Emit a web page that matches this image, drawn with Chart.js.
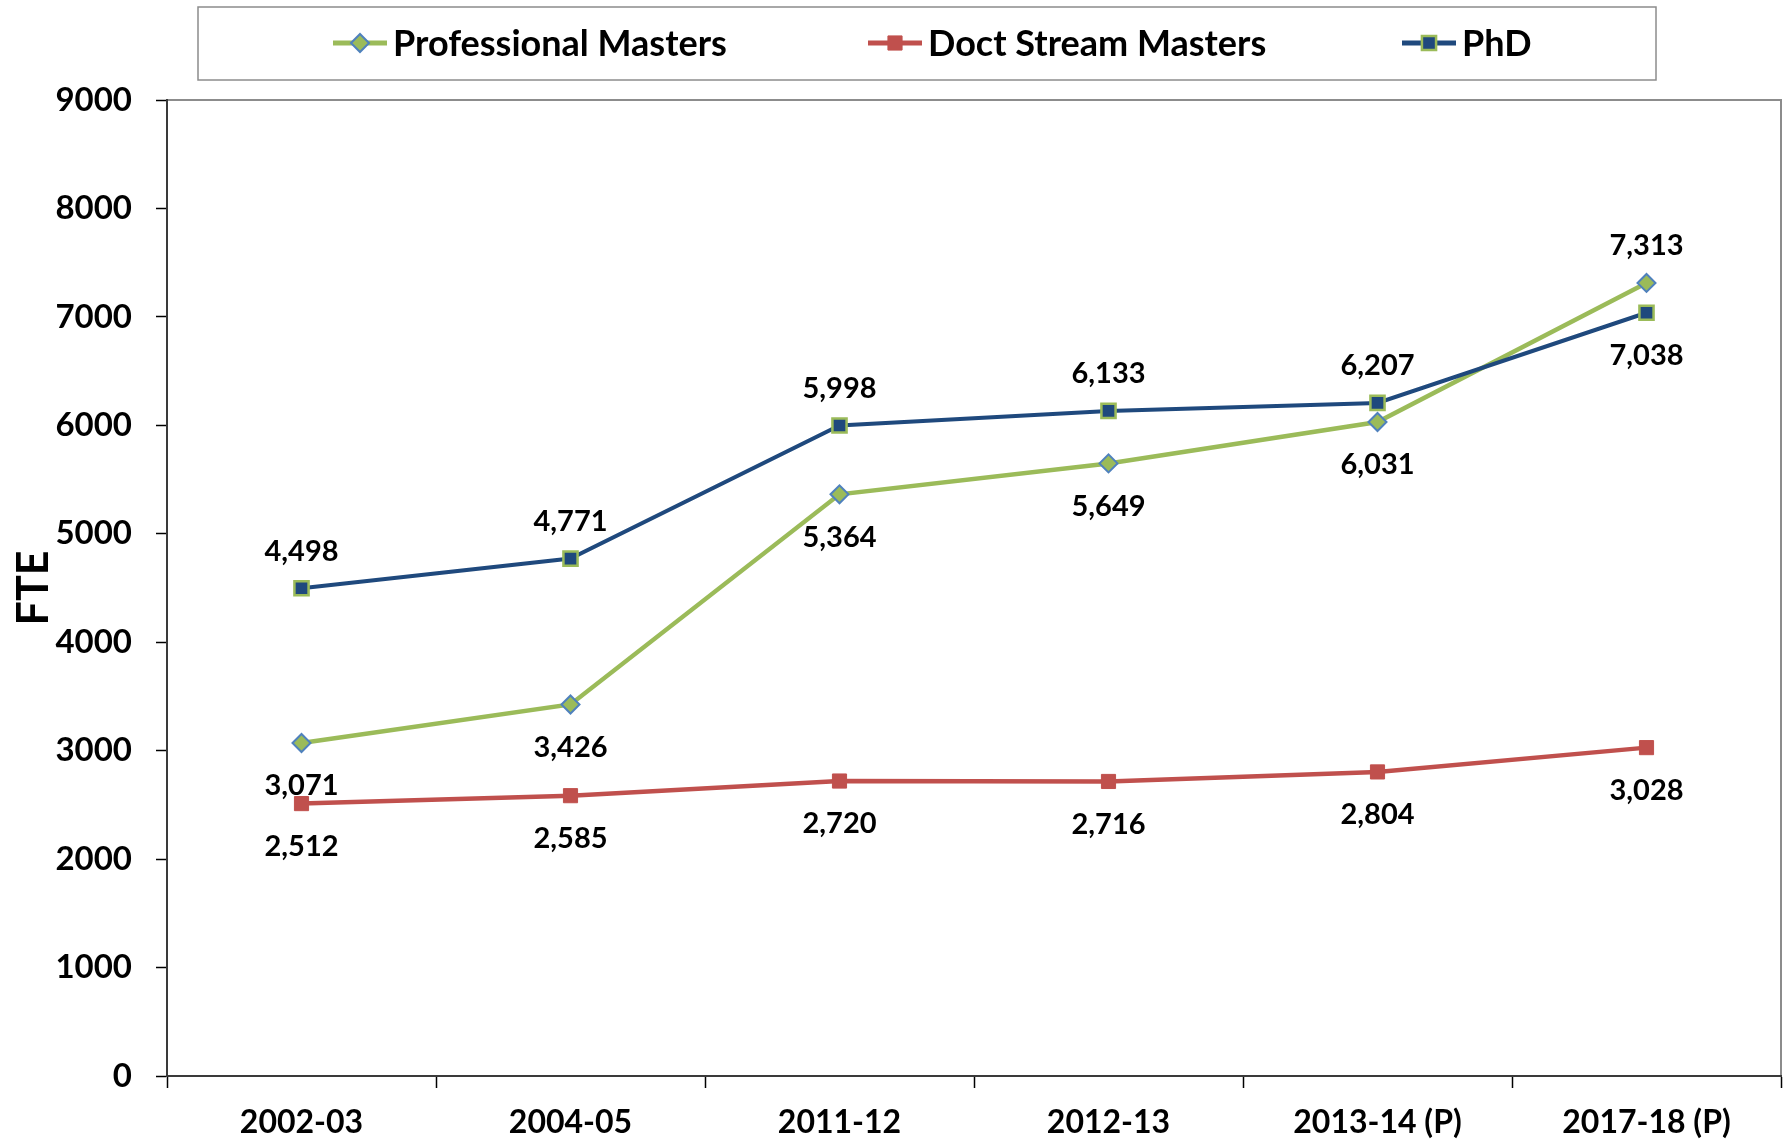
<!DOCTYPE html>
<html>
<head>
<meta charset="utf-8">
<script src="https://cdn.jsdelivr.net/npm/chart.js@4.4.1/dist/chart.umd.min.js"></script>
<style>
    body { margin: 0; background: #fff; }
    #wrap { width: 1783px; height: 1144px; position: relative; }
</style>
</head>
<body>
<div id="wrap"><canvas id="fte"></canvas></div>
<script>
const anos = ['2002-03', '2004-05', '2011-12', '2012-13', '2013-14 (P)', '2017-18 (P)'];
const profMasters = [3071, 3426, 5364, 5649, 6031, 7313];
const doctMasters = [2512, 2585, 2720, 2716, 2804, 3028];
const phd = [4498, 4771, 5998, 6133, 6207, 7038];
const yTicks = [0, 1000, 2000, 3000, 4000, 5000, 6000, 7000, 8000, 9000];

const FONT = 'Lato';

function drawMarker(ctx, style, x, y, r, fill, stroke, bw) {
    ctx.save();
    ctx.beginPath();
    if (style === 'rectRot') {
        ctx.moveTo(x - r, y);
        ctx.lineTo(x, y - r);
        ctx.lineTo(x + r, y);
        ctx.lineTo(x, y + r);
        ctx.closePath();
    } else {
        const s = r * Math.SQRT1_2;
        ctx.rect(x - s, y - s, 2 * s, 2 * s);
    }
    ctx.fillStyle = fill;
    ctx.fill();
    ctx.lineWidth = bw;
    ctx.strokeStyle = stroke;
    ctx.stroke();
    ctx.restore();
}

// moldura cinza da area do grafico
const plotFrame = {
    id: 'plotFrame',
    beforeDraw(chart) {
        const { ctx, chartArea: a } = chart;
        ctx.save();
        ctx.fillStyle = '#fff';
        ctx.fillRect(0, 0, chart.width, chart.height);
        ctx.strokeStyle = '#8c8c8c';
        ctx.lineWidth = 2;
        ctx.strokeRect(a.left, a.top, a.right - a.left, a.bottom - a.top);
        ctx.restore();
    }
};

// rotulos de valor (acima / abaixo do ponto)
const valueLabels = {
    id: 'valueLabels',
    afterDatasetsDraw(chart) {
        const ctx = chart.ctx;
        ctx.save();
        ctx.font = 'bold 29px ' + FONT;
        ctx.fillStyle = '#000';
        ctx.textAlign = 'center';
        ctx.textBaseline = 'middle';
        chart.data.datasets.forEach((ds, i) => {
            const meta = chart.getDatasetMeta(i);
            meta.data.forEach((pt, j) => {
                const pos = ds.labelPos[j];
                const y = pos === 'above' ? pt.y - 37 : pt.y + 43;
                ctx.fillText(ds.data[j].toLocaleString('en-US'), pt.x, y);
            });
        });
        ctx.restore();
    }
};

// legenda no estilo do Excel
const boxLegend = {
    id: 'boxLegend',
    afterDraw(chart) {
        const ctx = chart.ctx;
        const itemX = [333, 868, 1402];
        const ly = 43;
        ctx.save();
        ctx.strokeStyle = '#8c8c8c';
        ctx.lineWidth = 1.5;
        ctx.strokeRect(198, 7, 1458, 73);
        ctx.font = 'bold 36px ' + FONT;
        ctx.textBaseline = 'middle';
        ctx.textAlign = 'left';
        chart.data.datasets.forEach((ds, i) => {
            const x = itemX[i];
            ctx.strokeStyle = ds.borderColor;
            ctx.lineWidth = 5;
            ctx.beginPath();
            ctx.moveTo(x, ly);
            ctx.lineTo(x + 54, ly);
            ctx.stroke();
            drawMarker(ctx, ds.pointStyle, x + 27, ly, ds.pointRadius, ds.pointBackgroundColor, ds.pointBorderColor, ds.pointBorderWidth);
            ctx.fillStyle = '#000';
            ctx.fillText(ds.label, x + 60, ly + 1);
        });
        ctx.restore();
    }
};

const fte = document.getElementById('fte');

new Chart(fte, {
    type: 'line',
    data: {
        labels: anos,
        datasets: [
            {
                label: 'Professional Masters',
                data: profMasters,
                borderColor: '#9bbb59',
                borderWidth: 4.5,
                pointStyle: 'rectRot',
                pointRadius: 9,
                pointBackgroundColor: '#9bbb59',
                pointBorderColor: '#4f81bd',
                pointBorderWidth: 2,
                labelPos: ['below', 'below', 'below', 'below', 'below', 'above'],
                order: 3
            },
            {
                label: 'Doct Stream Masters',
                data: doctMasters,
                borderColor: '#c0504d',
                borderWidth: 4.5,
                pointStyle: 'rect',
                pointRadius: 10,
                pointBackgroundColor: '#c0504d',
                pointBorderColor: '#c0504d',
                pointBorderWidth: 1,
                labelPos: ['below', 'below', 'below', 'below', 'below', 'below'],
                order: 2
            },
            {
                label: 'PhD',
                data: phd,
                borderColor: '#1f497d',
                borderWidth: 4,
                pointStyle: 'rect',
                pointRadius: 10,
                pointBackgroundColor: '#1f497d',
                pointBorderColor: '#9bbb59',
                pointBorderWidth: 2.5,
                labelPos: ['above', 'above', 'above', 'above', 'above', 'below'],
                order: 1
            }
        ]
    },
    options: {
        responsive: true,
        maintainAspectRatio: false,
        animation: false,
        layout: {
            autoPadding: false,
            padding: { top: 100, right: 2, left: 0, bottom: 0 }
        },
        elements: {
            line: { tension: 0 }
        },
        scales: {
            x: {
                offset: true,
                afterFit(scale) { scale.height = 68; },
                grid: {
                    offset: true,
                    drawOnChartArea: false,
                    tickLength: 12,
                    tickColor: '#000',
                    tickWidth: 1.5
                },
                border: { color: '#3a3a3a', width: 2 },
                ticks: {
                    color: '#000',
                    padding: 15,
                    maxRotation: 0,
                    font: { family: FONT, size: 32, weight: 'bold' }
                }
            },
            y: {
                min: 0,
                max: 9000,
                afterFit(scale) { scale.width = 167; },
                afterBuildTicks(scale) { scale.ticks = yTicks.map(v => ({ value: v })); },
                grid: {
                    drawOnChartArea: false,
                    tickLength: 11,
                    tickColor: '#000',
                    tickWidth: 1.5
                },
                border: { color: '#3a3a3a', width: 2 },
                ticks: {
                    color: '#000',
                    padding: 24,
                    callback: v => String(v),
                    font: { family: FONT, size: 33, weight: 'bold' }
                },
                title: {
                    display: true,
                    text: 'FTE',
                    color: '#000',
                    padding: { top: 8, bottom: 0 },
                    font: { family: FONT, size: 43, weight: 'bold' }
                }
            }
        },
        plugins: {
            legend: { display: false },
            tooltip: { enabled: false }
        }
    },
    plugins: [plotFrame, valueLabels, boxLegend]
});
</script>
</body>
</html>
